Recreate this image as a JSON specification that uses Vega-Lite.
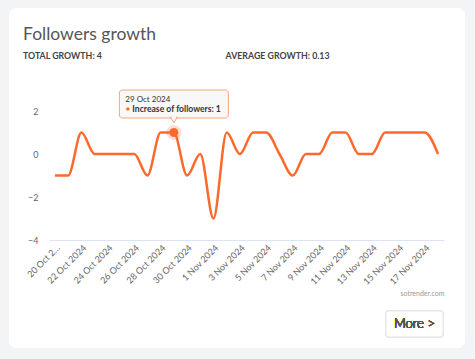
{
  "$schema": "https://vega.github.io/schema/vega-lite/v6.json",
  "autosize": {"type": "none"},
  "width": 395,
  "height": 129,
  "padding": {"left": 49, "top": 111, "right": 31, "bottom": 119},
  "background": "#f3f4f6",
  "config": {"font": "Lato", "view": {"stroke": null}},
  "title": {
    "text": "Followers growth",
    "subtitle": "TOTAL GROWTH: 4\u00a0\u00a0\u00a0\u00a0\u00a0\u00a0\u00a0\u00a0\u00a0\u00a0\u00a0\u00a0\u00a0\u00a0\u00a0\u00a0\u00a0\u00a0\u00a0\u00a0\u00a0\u00a0\u00a0\u00a0\u00a0\u00a0\u00a0\u00a0\u00a0\u00a0\u00a0\u00a0\u00a0\u00a0\u00a0\u00a0\u00a0\u00a0\u00a0\u00a0\u00a0\u00a0\u00a0\u00a0\u00a0\u00a0\u00a0\u00a0\u00a0\u00a0\u00a0\u00a0\u00a0\u00a0\u00a0\u00a0\u00a0\u00a0AVERAGE GROWTH: 0.13",
    "anchor": "start",
    "dx": 14,
    "offset": -53,
    "fontSize": 17.5,
    "fontWeight": "normal",
    "color": "#555555",
    "subtitleFontSize": 8.8,
    "subtitleFontWeight": "bold",
    "subtitleColor": "#444444",
    "subtitlePadding": 9,
    "zindex": 2
  },
  "data": {
    "values": [
      {"date": "2024-10-20", "value": -1},
      {"date": "2024-10-21", "value": -1},
      {"date": "2024-10-22", "value": 1},
      {"date": "2024-10-23", "value": 0},
      {"date": "2024-10-24", "value": 0},
      {"date": "2024-10-25", "value": 0},
      {"date": "2024-10-26", "value": 0},
      {"date": "2024-10-27", "value": -1},
      {"date": "2024-10-28", "value": 1},
      {"date": "2024-10-29", "value": 1},
      {"date": "2024-10-30", "value": -1},
      {"date": "2024-10-31", "value": 0},
      {"date": "2024-11-01", "value": -3},
      {"date": "2024-11-02", "value": 1},
      {"date": "2024-11-03", "value": 0},
      {"date": "2024-11-04", "value": 1},
      {"date": "2024-11-05", "value": 1},
      {"date": "2024-11-06", "value": 0},
      {"date": "2024-11-07", "value": -1},
      {"date": "2024-11-08", "value": 0},
      {"date": "2024-11-09", "value": 0},
      {"date": "2024-11-10", "value": 1},
      {"date": "2024-11-11", "value": 1},
      {"date": "2024-11-12", "value": 0},
      {"date": "2024-11-13", "value": 0},
      {"date": "2024-11-14", "value": 1},
      {"date": "2024-11-15", "value": 1},
      {"date": "2024-11-16", "value": 1},
      {"date": "2024-11-17", "value": 1},
      {"date": "2024-11-18", "value": 0}
    ]
  },
  "encoding": {
    "x": {
      "field": "date",
      "type": "temporal",
      "scale": {
        "type": "utc",
        "nice": false,
        "domain": [
          {"year": 2024, "month": 10, "date": 19, "hours": 13, "minutes": 6, "utc": true},
          {"year": 2024, "month": 11, "date": 18, "hours": 10, "minutes": 54, "utc": true}
        ]
      },
      "axis": {
        "title": "sotrender.com",
        "titleFontSize": 7,
        "titleFontWeight": "normal",
        "titleColor": "#999999",
        "titleAnchor": "end",
        "titleAlign": "right",
        "titleBaseline": "middle",
        "titleX": 395,
        "titleY": 53,
        "values": [
          {"year": 2024, "month": 10, "date": 20, "utc": true},
          {"year": 2024, "month": 10, "date": 22, "utc": true},
          {"year": 2024, "month": 10, "date": 24, "utc": true},
          {"year": 2024, "month": 10, "date": 26, "utc": true},
          {"year": 2024, "month": 10, "date": 28, "utc": true},
          {"year": 2024, "month": 10, "date": 30, "utc": true},
          {"year": 2024, "month": 11, "date": 1, "utc": true},
          {"year": 2024, "month": 11, "date": 3, "utc": true},
          {"year": 2024, "month": 11, "date": 5, "utc": true},
          {"year": 2024, "month": 11, "date": 7, "utc": true},
          {"year": 2024, "month": 11, "date": 9, "utc": true},
          {"year": 2024, "month": 11, "date": 11, "utc": true},
          {"year": 2024, "month": 11, "date": 13, "utc": true},
          {"year": 2024, "month": 11, "date": 15, "utc": true},
          {"year": 2024, "month": 11, "date": 17, "utc": true}
        ],
        "format": "%-d %b %Y",
        "labelExpr": "substring(datum.label, 0, 6) == '20 Oct' ? '20 Oct 2…' : datum.label",
        "labelAngle": -45,
        "labelAlign": "right",
        "labelBaseline": "top",
        "labelPadding": 3,
        "labelFontSize": 9,
        "labelColor": "#666666",
        "labelOverlap": false,
        "labelFlush": false,
        "ticks": false,
        "grid": false,
        "domainColor": "#dbe4f5",
        "domainWidth": 1,
        "zindex": 2
      }
    },
    "y": {
      "field": "value",
      "type": "quantitative",
      "scale": {"domain": [-4, 2], "nice": false, "zero": false},
      "axis": {
        "title": null,
        "values": [-4, -2, 0, 2],
        "format": "d",
        "grid": false,
        "domain": false,
        "ticks": false,
        "labelPadding": 11,
        "labelFontSize": 9,
        "labelColor": "#666666",
        "zindex": 2
      }
    }
  },
  "layer": [
    {
      "mark": {"type": "rect", "fill": "#ffffff", "cornerRadius": 8},
      "encoding": {
        "x": {"datum": {"year": 2024, "month": 10, "date": 16, "hours": 12, "minutes": 24, "utc": true}, "type": "temporal"},
        "x2": {"datum": {"year": 2024, "month": 11, "date": 20, "hours": 1, "minutes": 3, "utc": true}},
        "y": {"datum": 6.79, "type": "quantitative"},
        "y2": {"datum": -9.02}
      }
    },
    {
      "mark": {"type": "rect", "fill": "#ffffff", "stroke": "#e6e6e6", "strokeWidth": 1, "cornerRadius": 3},
      "encoding": {
        "x": {"datum": {"year": 2024, "month": 11, "date": 14, "hours": 1, "minutes": 30, "utc": true}, "type": "temporal"},
        "x2": {"datum": {"year": 2024, "month": 11, "date": 18, "hours": 9, "minutes": 7, "utc": true}},
        "y": {"datum": -7.3, "type": "quantitative"},
        "y2": {"datum": -8.51}
      }
    },
    {
      "mark": {"type": "text", "text": "More >", "fontSize": 13, "fontWeight": 300, "color": "#555555", "align": "left", "baseline": "alphabetic"},
      "encoding": {
        "x": {"datum": {"year": 2024, "month": 11, "date": 14, "hours": 16, "minutes": 5, "utc": true}, "type": "temporal"},
        "y": {"datum": -8.09, "type": "quantitative"}
      }
    },
    {
      "mark": {"type": "line", "interpolate": "monotone", "color": "#fb6a2c", "strokeWidth": 2.5}
    },
    {
      "transform": [{"filter": "utcmonth(datum.date) == 9 && utcdate(datum.date) == 29"}],
      "layer": [
        {
          "mark": {"type": "rect", "width": 109, "height": 28, "fill": "#f8f8f8", "stroke": "#f3a67f", "strokeWidth": 1, "cornerRadius": 3, "yOffset": -28.5}
        },
        {
          "mark": {"type": "point", "shape": "triangle-down", "size": 45, "filled": true, "fill": "#f8f8f8", "stroke": "#f3a67f", "strokeWidth": 1, "opacity": 1, "yOffset": -12.5}
        },
        {
          "mark": {"type": "point", "shape": "triangle-down", "size": 30, "filled": true, "fill": "#f8f8f8", "strokeWidth": 0, "opacity": 1, "yOffset": -14}
        },
        {
          "mark": {"type": "text", "align": "left", "baseline": "alphabetic", "dx": -48.5, "dy": -30.5, "fontSize": 8, "color": "#333333"},
          "encoding": {"text": {"field": "date", "type": "temporal", "timeUnit": "utcyearmonthdate", "format": "%-d %b %Y"}}
        },
        {
          "mark": {"type": "point", "shape": "circle", "size": 12, "filled": true, "color": "#fb6a2c", "opacity": 1, "xOffset": -46, "yOffset": -23.5}
        },
        {
          "transform": [{"calculate": "'Increase of followers: ' + datum.value", "as": "label"}],
          "mark": {"type": "text", "align": "left", "baseline": "alphabetic", "dx": -41.5, "dy": -20.5, "fontSize": 8.6, "fontWeight": "bold", "color": "#333333"},
          "encoding": {"text": {"field": "label", "type": "nominal"}}
        },
        {
          "mark": {"type": "point", "shape": "circle", "size": 230, "filled": true, "color": "#fb6a2c", "opacity": 0.22}
        },
        {
          "mark": {"type": "point", "shape": "circle", "size": 80, "filled": true, "color": "#fb6a2c", "opacity": 1}
        }
      ]
    }
  ]
}
